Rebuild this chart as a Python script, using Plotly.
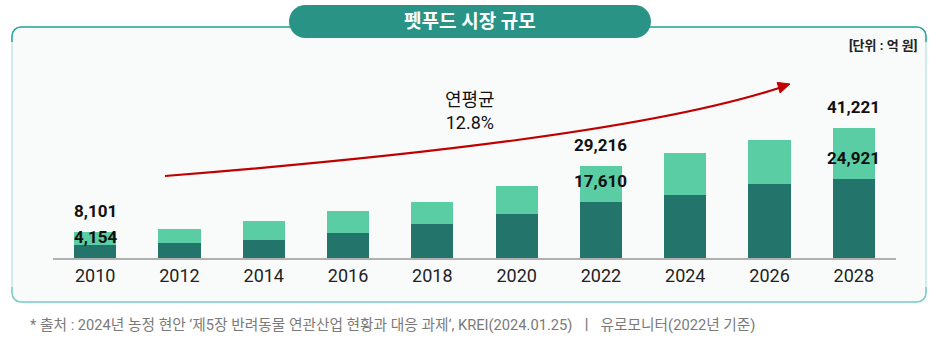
import plotly.graph_objects as go

# ---------------- data ----------------
years = ["2010", "2012", "2014", "2016", "2018", "2020", "2022", "2024", "2026", "2028"]
dark_values = [4154, 4650, 5800, 7930, 10780, 13830, 17610, 19850, 23340, 24921]
total_values = [8101, 9290, 11830, 14780, 17750, 22830, 29216, 33300, 37400, 41221]
labeled_years = ["2010", "2022", "2028"]

title_text = "펫푸드 시장 규모"
unit_text = "[단위 : 억 원]"
cagr_text = "연평균<br>12.8%"
source_text = "* 출처 : 2024년 농정 현안 ‘제5장 반려동물 연관산업 현황과 대응 과제‘, KREI(2024.01.25)  ㅣ  유로모니터(2022년 기준)"

light_values = [t - d for t, d in zip(total_values, dark_values)]

# ---------------- geometry ----------------
W, H = 945, 340
L, R, T, B = 53, 896, 100, 258   # plot area in pixels

def px(x):
    return (x - L) / (R - L)

def py(y):
    return (B - y) / (B - T)

def pt(x, y):
    return f"{px(x):.5f},{py(y):.5f}"

K = 0.5523

def rrect(x0, y0, x1, y1, r):
    k = r * (1 - K)
    return (f"M {pt(x0 + r, y0)} L {pt(x1 - r, y0)} "
            f"C {pt(x1 - k, y0)} {pt(x1, y0 + k)} {pt(x1, y0 + r)} "
            f"L {pt(x1, y1 - r)} "
            f"C {pt(x1, y1 - k)} {pt(x1 - k, y1)} {pt(x1 - r, y1)} "
            f"L {pt(x0 + r, y1)} "
            f"C {pt(x0 + k, y1)} {pt(x0, y1 - k)} {pt(x0, y1 - r)} "
            f"L {pt(x0, y0 + r)} "
            f"C {pt(x0, y0 + k)} {pt(x0 + k, y0)} {pt(x0 + r, y0)} Z")

DARK = "#23756B"
LIGHT = "#5ACDA5"
TEAL = "#299386"
FONT = "Roboto, Noto Sans CJK KR, sans-serif"

fig = go.Figure()
fig.add_trace(go.Bar(x=years, y=dark_values, marker=dict(color=DARK, line=dict(width=0)),
                     width=0.5, hoverinfo="skip"))
fig.add_trace(go.Bar(x=years, y=light_values, marker=dict(color=LIGHT, line=dict(width=0)),
                     width=0.5, hoverinfo="skip"))

shapes = []
# panel
px0, py0, px1, py1, pr = 12, 27, 926, 302, 9
shapes.append(dict(type="path", xref="paper", yref="paper", layer="below",
                   path=rrect(px0, py0, px1, py1, pr),
                   fillcolor="#F9FBFB", line=dict(color="#B5E3DE", width=1.2)))
k = pr * (1 - K)
top_path = (f"M {pt(px0, py0 + pr + 6)} L {pt(px0, py0 + pr)} "
            f"C {pt(px0, py0 + k)} {pt(px0 + k, py0)} {pt(px0 + pr, py0)} "
            f"L {pt(px1 - pr, py0)} "
            f"C {pt(px1 - k, py0)} {pt(px1, py0 + k)} {pt(px1, py0 + pr)} L {pt(px1, py0 + pr + 6)}")
shapes.append(dict(type="path", xref="paper", yref="paper", layer="below",
                   path=top_path, line=dict(color="#2BA699", width=1.5)))
bot_path = (f"M {pt(px0, py1 - pr - 6)} L {pt(px0, py1 - pr)} "
            f"C {pt(px0, py1 - k)} {pt(px0 + k, py1)} {pt(px0 + pr, py1)} "
            f"L {pt(px1 - pr, py1)} "
            f"C {pt(px1 - k, py1)} {pt(px1, py1 - k)} {pt(px1, py1 - pr)} L {pt(px1, py1 - pr - 6)}")
shapes.append(dict(type="path", xref="paper", yref="paper", layer="below",
                   path=bot_path, line=dict(color="#7FCFC7", width=1.5)))
# title pill
shapes.append(dict(type="path", xref="paper", yref="paper", layer="above",
                   path=rrect(289, 5, 651, 38, 16.5),
                   fillcolor=TEAL, line=dict(width=0)))
# CAGR arrow curve
shapes.append(dict(type="path", xref="paper", yref="paper", layer="above",
                   path=f"M {pt(165, 176)} Q {pt(620, 140)} {pt(779, 88)}",
                   line=dict(color="#C00000", width=2.2)))
shapes.append(dict(type="path", xref="paper", yref="paper", layer="above",
                   path=f"M {pt(790, 84)} L {pt(780.1, 93)} L {pt(777.1, 82.4)} Z",
                   fillcolor="#C00000", line=dict(color="#C00000", width=1)))

annotations = []
annotations.append(dict(xref="paper", yref="paper", x=px(470), y=py(21.5), text=title_text,
                        showarrow=False, xanchor="center", yanchor="middle",
                        font=dict(family=FONT, size=19, color="white", weight="bold")))
annotations.append(dict(xref="paper", yref="paper", x=px(919), y=py(46), text=unit_text,
                        showarrow=False, xanchor="right", yanchor="middle",
                        font=dict(family=FONT, size=13, color="#222", weight="bold")))
annotations.append(dict(xref="paper", yref="paper", x=px(470), y=py(111), text=cagr_text,
                        showarrow=False, xanchor="center", yanchor="middle", align="center",
                        font=dict(family=FONT, size=18, color="#111")))
annotations.append(dict(xref="paper", yref="paper", x=px(28), y=py(325), text=source_text,
                        showarrow=False, xanchor="left", yanchor="middle",
                        font=dict(family=FONT, size=14.7, color="#7A7A7A")))

for i, (yr, d, t) in enumerate(zip(years, dark_values, total_values)):
    if yr not in labeled_years:
        continue
    annotations.append(dict(xref="x", yref="y", x=i, y=t, text=f"{t:,}", showarrow=False,
                            yanchor="middle", yshift=21,
                            font=dict(family=FONT, size=17, color="#111", weight="bold")))
    annotations.append(dict(xref="x", yref="y", x=i, y=d, text=f"{d:,}", showarrow=False,
                            yanchor="middle", yshift=8 if i == 0 else 21,
                            font=dict(family=FONT, size=17, color="#111", weight="bold")))

fig.update_layout(
    width=W, height=H, barmode="stack", showlegend=False,
    margin=dict(l=L, r=W - R, t=T, b=H - B, pad=0),
    paper_bgcolor="white", plot_bgcolor="rgba(0,0,0,0)",
    shapes=shapes, annotations=annotations,
    xaxis=dict(type="category", range=[-0.5, 9.5], showline=True, linecolor="#B0B0B0",
               linewidth=2, ticks="", ticklen=0,
               tickfont=dict(family=FONT, size=18, color="#222"), showgrid=False, fixedrange=True),
    yaxis=dict(range=[0, 50000], visible=False, showgrid=False, zeroline=False, fixedrange=True),
)

fig.write_html("out.html", include_plotlyjs=True, config=dict(displayModeBar=False))
